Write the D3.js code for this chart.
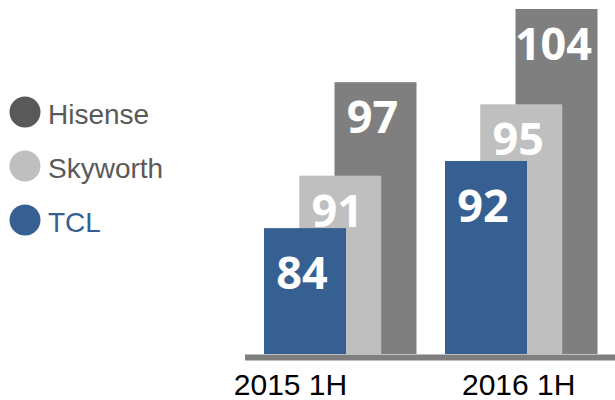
<!DOCTYPE html>
<html>
<head>
<meta charset="utf-8">
<script src="https://cdn.jsdelivr.net/npm/d3@7"></script>
<style>
  html, body { margin: 0; padding: 0; background: #fff; }
  svg { display: block; }
</style>
</head>
<body>
<svg id="chart" width="615" height="400"></svg>
<script>
// ---- data ----
const categories = ["2015 1H", "2016 1H"];
const series = ["TCL", "Skyworth", "Hisense"];          // front to back
const tclValues = [84, 92];
const skyworthValues = [91, 95];
const hisenseValues = [97, 104];
const legendOrder = ["Hisense", "Skyworth", "TCL"];
// value range shown per series (the graphic uses a separate, truncated scale per brand)
const tclDomain = [69, 92];
const skyworthDomain = [81, 95];
const hisenseDomain = [71, 104];

// ---- styles ----
const colors = { TCL: "#376092", Skyworth: "#bfbfbf", Hisense: "#7f7f7f" };
const legendDot = { TCL: "#376092", Skyworth: "#bfbfbf", Hisense: "#595959" };
const legendText = { TCL: "#376092", Skyworth: "#595959", Hisense: "#595959" };

const valuesBy = { TCL: tclValues, Skyworth: skyworthValues, Hisense: hisenseValues };
const domainBy = { TCL: tclDomain, Skyworth: skyworthDomain, Hisense: hisenseDomain };
const rangeTop = { TCL: 161, Skyworth: 104.3, Hisense: 9 };

const svg = d3.select("#chart");
const baseY = 354;
const barW = 82;

// group position (left edge of front bar) and per-series offset
const xGroup = d3.scalePoint().domain(categories).range([264, 445]);
const xSeries = d3.scalePoint().domain(series).range([0, 70.5]);
const xLabel = d3.scalePoint().domain(categories).range([290.5, 518.7]);

const yScale = {};
series.forEach(s => {
  yScale[s] = d3.scaleLinear().domain(domainBy[s]).range([baseY, rangeTop[s]]);
});

const labelOffset = { TCL: 61, Skyworth: 51, Hisense: 51 };

// draw back to front
const drawOrder = series.slice().reverse();
drawOrder.forEach(s => {
  const g = svg.append("g").attr("class", "series-" + s);
  const data = categories.map((c, i) => ({ c, v: valuesBy[s][i] }));
  g.selectAll("rect").data(data).enter().append("rect")
    .attr("x", d => xGroup(d.c) + xSeries(s))
    .attr("y", d => yScale[s](d.v))
    .attr("width", barW)
    .attr("height", d => baseY - yScale[s](d.v))
    .attr("fill", colors[s]);
  g.selectAll("text").data(data).enter().append("text")
    .attr("x", d => xGroup(d.c) + xSeries(s) + 38)
    .attr("y", d => yScale[s](d.v) + labelOffset[s])
    .attr("text-anchor", "middle")
    .attr("font-family", "'Open Sans', sans-serif")
    .attr("font-weight", 700)
    .attr("font-size", 45)
    .attr("fill", "#ffffff")
    .text(d => d.v);
});

// axis baseline
svg.append("line")
  .attr("x1", 245).attr("x2", 615)
  .attr("y1", baseY + 3.5).attr("y2", baseY + 3.5)
  .attr("stroke", "#7f7f7f").attr("stroke-width", 6);

// category labels
svg.selectAll("text.cat").data(categories).enter().append("text")
  .attr("class", "cat")
  .attr("x", d => xLabel(d))
  .attr("y", 394.5)
  .attr("text-anchor", "middle")
  .attr("font-family", "'Liberation Sans', Arial, sans-serif")
  .attr("font-size", 30)
  .attr("fill", "#000")
  .text(d => d);

// legend
const yLegend = d3.scalePoint().domain(legendOrder).range([112, 220]);
const lg = svg.append("g").attr("class", "legend");
lg.selectAll("circle").data(legendOrder).enter().append("circle")
  .attr("cx", 25).attr("cy", d => yLegend(d)).attr("r", 15.5)
  .attr("fill", d => legendDot[d]);
lg.selectAll("text").data(legendOrder).enter().append("text")
  .attr("x", 48).attr("y", d => yLegend(d) + 11.5)
  .attr("font-family", "'Liberation Sans', Arial, sans-serif")
  .attr("font-size", 28)
  .attr("fill", d => legendText[d])
  .text(d => d);
</script>
</body>
</html>
